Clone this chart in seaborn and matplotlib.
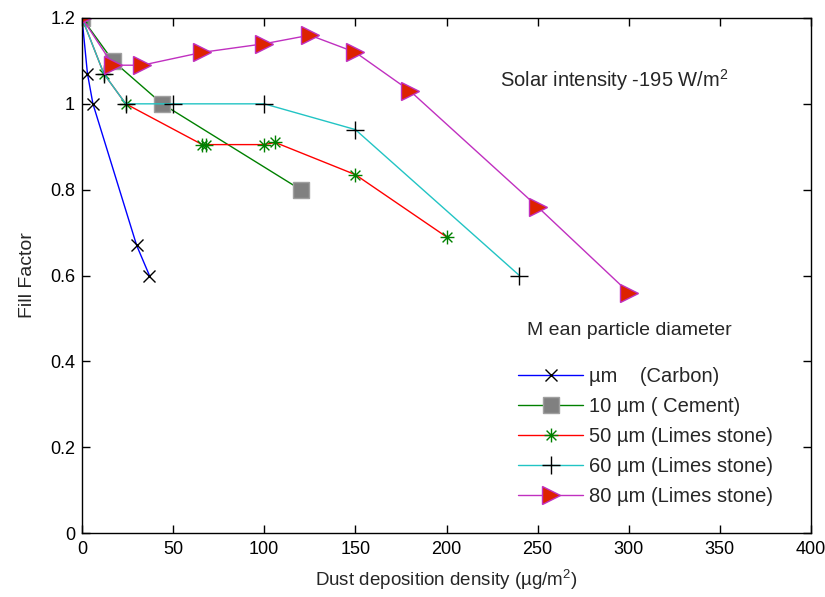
import numpy as np
import pandas as pd
import matplotlib
matplotlib.use("Agg")
import matplotlib.pyplot as plt
import matplotlib.path as mpath
import seaborn as sns

# datos
carbon_x = [0, 3, 6, 30, 37]
carbon_y = [1.2, 1.07, 1.0, 0.67, 0.6]

cemento_x = [0, 17, 44, 120]
cemento_y = [1.2, 1.1, 1.0, 0.8]

caliza50_x = [0, 12, 24, 66, 68, 100, 106, 150, 200]
caliza50_y = [1.2, 1.07, 1.0, 0.905, 0.905, 0.905, 0.91, 0.835, 0.69]

caliza60_x = [0, 12, 24, 50, 100, 150, 240]
caliza60_y = [1.2, 1.07, 1.0, 1.0, 1.0, 0.94, 0.6]

caliza80_x = [0, 17, 33, 66, 100, 125, 150, 180, 250, 300]
caliza80_y = [1.2, 1.09, 1.09, 1.12, 1.14, 1.16, 1.12, 1.03, 0.76, 0.56]

etiquetas = ["µm    (Carbon)", "10 µm ( Cement)", "50 µm (Limes stone)",
             "60 µm (Limes stone)", "80 µm (Limes stone)"]

x_ticks = [0, 50, 100, 150, 200, 250, 300, 350, 400]
y_ticks = [0, 0.2, 0.4, 0.6, 0.8, 1.0, 1.2]
y_tick_labels = ["0", "0.2", "0.4", "0.6", "0.8", "1", "1.2"]

sns.set_style("ticks")
plt.rcParams['font.family'] = ['Liberation Sans', 'DejaVu Sans']
plt.rcParams['mathtext.default'] = 'regular'

# marcador tipo asterisco como el de matlab
verts, codes = [], []
for a in np.deg2rad([0, 45, 90, 135]):
    verts += [(np.cos(a), np.sin(a)), (-np.cos(a), -np.sin(a))]
    codes += [mpath.Path.MOVETO, mpath.Path.LINETO]
asterisco = mpath.Path(verts, codes)

fig = plt.figure(figsize=(8.25, 5.97), dpi=100)
ax = fig.add_axes([82 / 825, 1 - 533 / 597, 729 / 825, 515 / 597])

series = [
    (carbon_x, carbon_y, dict(color='#0000ff', marker='x', markersize=8.5,
                              markeredgecolor='black', markerfacecolor='none')),
    (cemento_x, cemento_y, dict(color='#008000', marker='s', markersize=11,
                                markeredgecolor='#a0a0a0', markerfacecolor='#808080')),
    (caliza50_x, caliza50_y, dict(color='#ff0000', marker=asterisco, markersize=10,
                                  markeredgecolor='#008000', markerfacecolor='none')),
    (caliza60_x, caliza60_y, dict(color='#22c4c4', marker='+', markersize=13,
                                  markeredgecolor='black')),
    (caliza80_x, caliza80_y, dict(color='#c030c0', marker='>', markersize=13,
                                  markeredgecolor='#c030c0', markerfacecolor='#dd2200')),
]

for (xs, ys, estilo), nombre in zip(series, etiquetas):
    d = pd.DataFrame({'x': xs, 'y': ys})
    sns.lineplot(data=d, x='x', y='y', ax=ax, estimator=None, sort=False,
                 linewidth=1, markeredgewidth=1, label=nombre, **estilo)

ax.set_xlim(0, 400)
ax.set_ylim(0, 1.2)
ax.set_xticks(x_ticks)
ax.set_yticks(y_ticks)
ax.set_yticklabels(y_tick_labels)
ax.tick_params(direction='in', top=True, right=True, length=6, width=1,
               labelsize=13, colors='black', pad=5)
ax.tick_params(axis='x', pad=6)
for s in ax.spines.values():
    s.set_linewidth(1)
    s.set_color('black')

ax.set_xlabel("Dust deposition density (µg/m$^{2}$)", fontsize=13.5)
ax.set_ylabel("Fill Factor", fontsize=14)
ax.xaxis.set_label_coords(0.5, -0.068)
ax.yaxis.set_label_coords(-0.063, 0.5)

ax.text(0.573, 0.880, "Solar intensity -195 W/m$^{2}$", transform=ax.transAxes,
        fontsize=14.5, va='center', ha='left')
ax.text(0.610, 0.394, "M ean particle diameter", transform=ax.transAxes,
        fontsize=14, va='center', ha='left')

ax.legend(loc='upper left', bbox_to_anchor=(0.598, 0.322), frameon=False,
          fontsize=14.5, handlelength=3.25, handletextpad=0.26, labelspacing=0.54,
          borderpad=0, borderaxespad=0)

plt.savefig("out.png", dpi=100)
